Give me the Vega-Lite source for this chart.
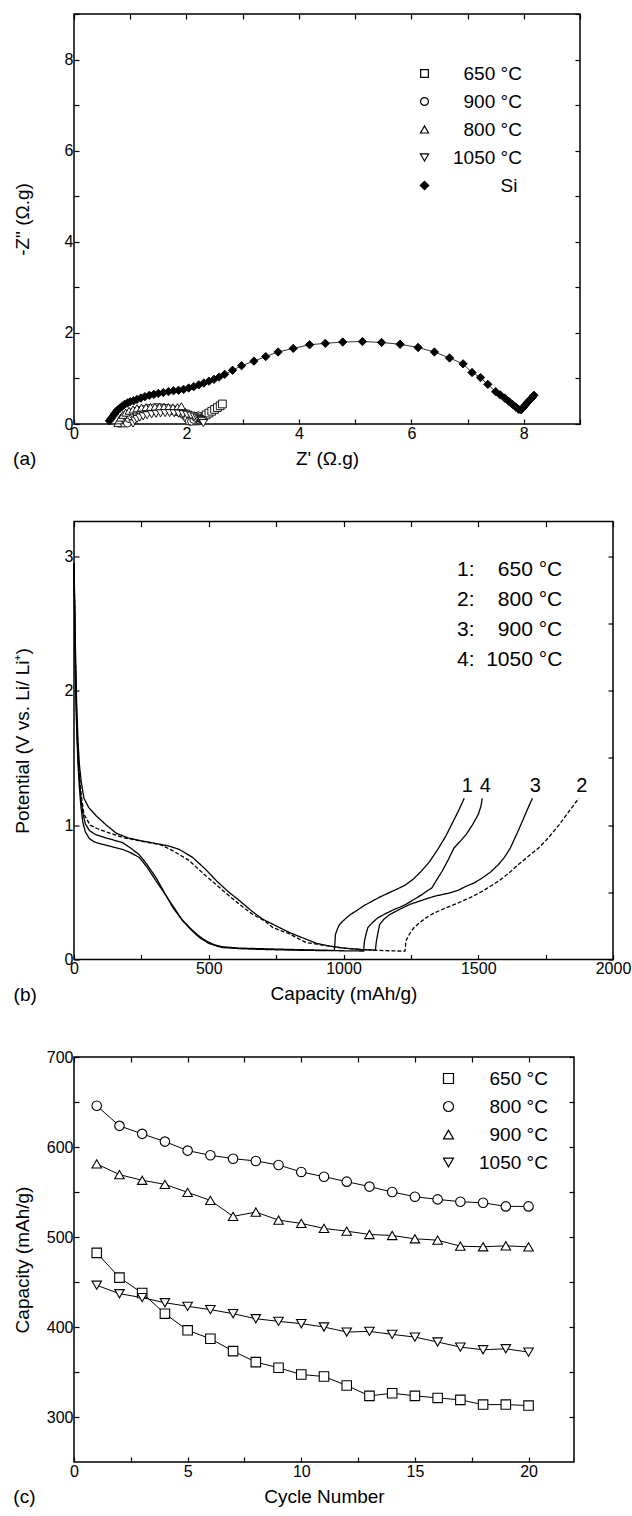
{
  "$schema": "https://vega.github.io/schema/vega-lite/v6.json",
  "background": "white",
  "padding": {"left": 12, "top": 5, "right": 5, "bottom": 2},
  "spacing": 97.5,
  "bounds": "flush",
  "config": {
    "font": "Liberation Sans",
    "view": {"stroke": "black", "strokeWidth": 1.5},
    "axis": {"domain": false, "grid": false, "tickColor": "black", "tickSize": -5, "tickWidth": 1.2, "labelColor": "black", "labelFontSize": 16, "labelPadding": 6, "titleColor": "black", "titleFontSize": 19, "titleFontWeight": "normal", "labelFlush": false, "labelOverlap": false, "titlePadding": 8},
    "legend": {"labelFontSize": 19, "labelColor": "black", "padding": 0, "labelFont": "Liberation Sans"},
    "title": {"fontSize": 19, "fontWeight": "normal", "color": "black"}
  },
  "resolve": {"scale": {"shape": "independent", "fill": "independent", "size": "independent", "strokeDash": "independent", "x": "independent", "y": "independent"}, "legend": {"shape": "independent", "fill": "independent", "size": "independent", "strokeDash": "independent"}},
  "datasets": {
    "imp": [
      {"s":"Si","x":0.63,"y":0.07},{"s":"Si","x":0.66,"y":0.12},{"s":"Si","x":0.69,"y":0.17},{"s":"Si","x":0.72,"y":0.22},{"s":"Si","x":0.75,"y":0.27},{"s":"Si","x":0.78,"y":0.31},{"s":"Si","x":0.82,"y":0.35},{"s":"Si","x":0.86,"y":0.39},{"s":"Si","x":0.9,"y":0.43},{"s":"Si","x":0.95,"y":0.46},{"s":"Si","x":1.0,"y":0.49},{"s":"Si","x":1.06,"y":0.51},{"s":"Si","x":1.12,"y":0.54},{"s":"Si","x":1.19,"y":0.57},{"s":"Si","x":1.26,"y":0.6},{"s":"Si","x":1.34,"y":0.63},{"s":"Si","x":1.42,"y":0.65},{"s":"Si","x":1.5,"y":0.67},{"s":"Si","x":1.59,"y":0.69},{"s":"Si","x":1.68,"y":0.71},{"s":"Si","x":1.77,"y":0.73},{"s":"Si","x":1.86,"y":0.74},{"s":"Si","x":1.95,"y":0.76},{"s":"Si","x":2.04,"y":0.79},{"s":"Si","x":2.13,"y":0.82},{"s":"Si","x":2.22,"y":0.86},{"s":"Si","x":2.31,"y":0.9},{"s":"Si","x":2.4,"y":0.94},{"s":"Si","x":2.49,"y":0.98},{"s":"Si","x":2.58,"y":1.03},{"s":"Si","x":2.68,"y":1.09},{"s":"Si","x":2.82,"y":1.18},{"s":"Si","x":2.98,"y":1.28},{"s":"Si","x":3.2,"y":1.38},{"s":"Si","x":3.41,"y":1.48},{"s":"Si","x":3.63,"y":1.58},{"s":"Si","x":3.9,"y":1.66},{"s":"Si","x":4.19,"y":1.74},{"s":"Si","x":4.47,"y":1.77},{"s":"Si","x":4.78,"y":1.8},{"s":"Si","x":5.13,"y":1.81},{"s":"Si","x":5.47,"y":1.79},{"s":"Si","x":5.8,"y":1.75},{"s":"Si","x":6.12,"y":1.68},{"s":"Si","x":6.41,"y":1.58},{"s":"Si","x":6.68,"y":1.45},{"s":"Si","x":6.92,"y":1.32},{"s":"Si","x":7.08,"y":1.13},{"s":"Si","x":7.23,"y":1.02},{"s":"Si","x":7.36,"y":0.87},{"s":"Si","x":7.5,"y":0.71},{"s":"Si","x":7.58,"y":0.64},{"s":"Si","x":7.66,"y":0.57},{"s":"Si","x":7.74,"y":0.49},{"s":"Si","x":7.8,"y":0.43},{"s":"Si","x":7.86,"y":0.37},{"s":"Si","x":7.91,"y":0.32},{"s":"Si","x":7.95,"y":0.31},{"s":"Si","x":7.99,"y":0.36},{"s":"Si","x":8.03,"y":0.42},{"s":"Si","x":8.07,"y":0.48},{"s":"Si","x":8.11,"y":0.53},{"s":"Si","x":8.15,"y":0.58},{"s":"Si","x":8.18,"y":0.63},
      {"s":"650 °C","x":0.85,"y":0.02},{"s":"650 °C","x":0.88,"y":0.099},{"s":"650 °C","x":0.92,"y":0.149},{"s":"650 °C","x":0.97,"y":0.191},{"s":"650 °C","x":1.02,"y":0.223},{"s":"650 °C","x":1.08,"y":0.252},{"s":"650 °C","x":1.14,"y":0.275},{"s":"650 °C","x":1.2,"y":0.293},{"s":"650 °C","x":1.26,"y":0.307},{"s":"650 °C","x":1.32,"y":0.317},{"s":"650 °C","x":1.38,"y":0.324},{"s":"650 °C","x":1.44,"y":0.329},{"s":"650 °C","x":1.5,"y":0.33},{"s":"650 °C","x":1.56,"y":0.329},{"s":"650 °C","x":1.62,"y":0.324},{"s":"650 °C","x":1.68,"y":0.317},{"s":"650 °C","x":1.74,"y":0.307},{"s":"650 °C","x":1.8,"y":0.293},{"s":"650 °C","x":1.86,"y":0.275},{"s":"650 °C","x":1.92,"y":0.252},{"s":"650 °C","x":1.98,"y":0.223},{"s":"650 °C","x":2.03,"y":0.191},{"s":"650 °C","x":2.07,"y":0.149},{"s":"650 °C","x":2.1,"y":0.11},{"s":"650 °C","x":2.14,"y":0.07},{"s":"650 °C","x":2.18,"y":0.07},{"s":"650 °C","x":2.22,"y":0.1},{"s":"650 °C","x":2.26,"y":0.13},{"s":"650 °C","x":2.3,"y":0.16},{"s":"650 °C","x":2.35,"y":0.2},{"s":"650 °C","x":2.4,"y":0.24},{"s":"650 °C","x":2.45,"y":0.28},{"s":"650 °C","x":2.5,"y":0.32},{"s":"650 °C","x":2.55,"y":0.36},{"s":"650 °C","x":2.6,"y":0.4},{"s":"650 °C","x":2.64,"y":0.44},
      {"s":"900 °C","x":0.95,"y":0.02},{"s":"900 °C","x":0.98,"y":0.118},{"s":"900 °C","x":1.02,"y":0.176},{"s":"900 °C","x":1.07,"y":0.224},{"s":"900 °C","x":1.12,"y":0.26},{"s":"900 °C","x":1.18,"y":0.293},{"s":"900 °C","x":1.24,"y":0.317},{"s":"900 °C","x":1.3,"y":0.335},{"s":"900 °C","x":1.36,"y":0.348},{"s":"900 °C","x":1.42,"y":0.356},{"s":"900 °C","x":1.48,"y":0.36},{"s":"900 °C","x":1.54,"y":0.358},{"s":"900 °C","x":1.6,"y":0.354},{"s":"900 °C","x":1.66,"y":0.344},{"s":"900 °C","x":1.72,"y":0.33},{"s":"900 °C","x":1.78,"y":0.31},{"s":"900 °C","x":1.84,"y":0.283},{"s":"900 °C","x":1.9,"y":0.247},{"s":"900 °C","x":1.95,"y":0.207},{"s":"900 °C","x":1.99,"y":0.163},{"s":"900 °C","x":2.02,"y":0.117},{"s":"900 °C","x":2.05,"y":0.06},{"s":"900 °C","x":2.09,"y":0.06},{"s":"900 °C","x":2.13,"y":0.1},{"s":"900 °C","x":2.17,"y":0.14},{"s":"900 °C","x":2.21,"y":0.18},
      {"s":"800 °C","x":0.78,"y":0.02},{"s":"800 °C","x":0.8,"y":0.08},{"s":"800 °C","x":0.83,"y":0.14},{"s":"800 °C","x":0.87,"y":0.2},{"s":"800 °C","x":0.92,"y":0.25},{"s":"800 °C","x":0.98,"y":0.29},{"s":"800 °C","x":1.05,"y":0.32},{"s":"800 °C","x":1.12,"y":0.345},{"s":"800 °C","x":1.2,"y":0.36},{"s":"800 °C","x":1.28,"y":0.37},{"s":"800 °C","x":1.36,"y":0.375},{"s":"800 °C","x":1.44,"y":0.378},{"s":"800 °C","x":1.52,"y":0.378},{"s":"800 °C","x":1.6,"y":0.375},{"s":"800 °C","x":1.68,"y":0.37},{"s":"800 °C","x":1.76,"y":0.365},{"s":"800 °C","x":1.84,"y":0.37},{"s":"800 °C","x":1.91,"y":0.39},
      {"s":"1050 °C","x":1.05,"y":0.01},{"s":"1050 °C","x":1.08,"y":0.073},{"s":"1050 °C","x":1.12,"y":0.11},{"s":"1050 °C","x":1.17,"y":0.141},{"s":"1050 °C","x":1.23,"y":0.168},{"s":"1050 °C","x":1.3,"y":0.192},{"s":"1050 °C","x":1.38,"y":0.212},{"s":"1050 °C","x":1.46,"y":0.225},{"s":"1050 °C","x":1.54,"y":0.234},{"s":"1050 °C","x":1.62,"y":0.239},{"s":"1050 °C","x":1.7,"y":0.24},{"s":"1050 °C","x":1.78,"y":0.237},{"s":"1050 °C","x":1.86,"y":0.229},{"s":"1050 °C","x":1.94,"y":0.217},{"s":"1050 °C","x":2.01,"y":0.203},{"s":"1050 °C","x":2.08,"y":0.183},{"s":"1050 °C","x":2.14,"y":0.16},{"s":"1050 °C","x":2.19,"y":0.136},{"s":"1050 °C","x":2.23,"y":0.11},{"s":"1050 °C","x":2.26,"y":0.085},{"s":"1050 °C","x":2.28,"y":0.06},{"s":"1050 °C","x":2.3,"y":0.02}
    ],
    "dc": [
      {"n":"1","cap":0,"v":2.95},{"n":"1","cap":3,"v":2.5},{"n":"1","cap":6,"v":2.1},{"n":"1","cap":10,"v":1.75},{"n":"1","cap":15,"v":1.5},{"n":"1","cap":20,"v":1.34},{"n":"1","cap":26,"v":1.2},{"n":"1","cap":33,"v":1.09},{"n":"1","cap":42,"v":1.01},{"n":"1","cap":57,"v":0.96},{"n":"1","cap":80,"v":0.93},{"n":"1","cap":110,"v":0.91},{"n":"1","cap":145,"v":0.89},{"n":"1","cap":180,"v":0.87},{"n":"1","cap":210,"v":0.83},{"n":"1","cap":242,"v":0.78},{"n":"1","cap":270,"v":0.71},{"n":"1","cap":304,"v":0.61},{"n":"1","cap":335,"v":0.5},{"n":"1","cap":366,"v":0.39},{"n":"1","cap":395,"v":0.31},{"n":"1","cap":428,"v":0.24},{"n":"1","cap":460,"v":0.18},{"n":"1","cap":489,"v":0.14},{"n":"1","cap":520,"v":0.11},{"n":"1","cap":551,"v":0.095},{"n":"1","cap":613,"v":0.085},{"n":"1","cap":700,"v":0.08},{"n":"1","cap":800,"v":0.075},{"n":"1","cap":900,"v":0.07},{"n":"1","cap":966,"v":0.068},{"n":"1","cap":968,"v":0.12},{"n":"1","cap":970,"v":0.186},{"n":"1","cap":978,"v":0.23},{"n":"1","cap":985,"v":0.26},{"n":"1","cap":1000,"v":0.29},{"n":"1","cap":1022,"v":0.33},{"n":"1","cap":1046,"v":0.36},{"n":"1","cap":1075,"v":0.4},{"n":"1","cap":1108,"v":0.436},{"n":"1","cap":1140,"v":0.47},{"n":"1","cap":1170,"v":0.498},{"n":"1","cap":1200,"v":0.525},{"n":"1","cap":1230,"v":0.555},{"n":"1","cap":1260,"v":0.6},{"n":"1","cap":1290,"v":0.66},{"n":"1","cap":1320,"v":0.73},{"n":"1","cap":1350,"v":0.82},{"n":"1","cap":1380,"v":0.92},{"n":"1","cap":1410,"v":1.04},{"n":"1","cap":1430,"v":1.12},{"n":"1","cap":1448,"v":1.2},
      {"n":"4","cap":0,"v":2.95},{"n":"4","cap":3,"v":2.45},{"n":"4","cap":6,"v":2.05},{"n":"4","cap":10,"v":1.7},{"n":"4","cap":15,"v":1.45},{"n":"4","cap":20,"v":1.28},{"n":"4","cap":26,"v":1.13},{"n":"4","cap":33,"v":1.02},{"n":"4","cap":42,"v":0.95},{"n":"4","cap":57,"v":0.9},{"n":"4","cap":75,"v":0.875},{"n":"4","cap":100,"v":0.86},{"n":"4","cap":140,"v":0.84},{"n":"4","cap":180,"v":0.82},{"n":"4","cap":210,"v":0.795},{"n":"4","cap":242,"v":0.76},{"n":"4","cap":270,"v":0.69},{"n":"4","cap":304,"v":0.586},{"n":"4","cap":330,"v":0.51},{"n":"4","cap":354,"v":0.437},{"n":"4","cap":380,"v":0.36},{"n":"4","cap":403,"v":0.288},{"n":"4","cap":435,"v":0.22},{"n":"4","cap":465,"v":0.164},{"n":"4","cap":500,"v":0.12},{"n":"4","cap":530,"v":0.1},{"n":"4","cap":551,"v":0.089},{"n":"4","cap":620,"v":0.08},{"n":"4","cap":700,"v":0.075},{"n":"4","cap":800,"v":0.07},{"n":"4","cap":900,"v":0.067},{"n":"4","cap":1000,"v":0.065},{"n":"4","cap":1075,"v":0.063},{"n":"4","cap":1076,"v":0.1},{"n":"4","cap":1078,"v":0.14},{"n":"4","cap":1085,"v":0.2},{"n":"4","cap":1090,"v":0.236},{"n":"4","cap":1105,"v":0.27},{"n":"4","cap":1127,"v":0.31},{"n":"4","cap":1155,"v":0.34},{"n":"4","cap":1187,"v":0.372},{"n":"4","cap":1210,"v":0.39},{"n":"4","cap":1231,"v":0.41},{"n":"4","cap":1260,"v":0.445},{"n":"4","cap":1291,"v":0.483},{"n":"4","cap":1310,"v":0.51},{"n":"4","cap":1328,"v":0.533},{"n":"4","cap":1345,"v":0.59},{"n":"4","cap":1366,"v":0.657},{"n":"4","cap":1388,"v":0.74},{"n":"4","cap":1410,"v":0.83},{"n":"4","cap":1433,"v":0.88},{"n":"4","cap":1455,"v":0.93},{"n":"4","cap":1478,"v":1.0},{"n":"4","cap":1500,"v":1.08},{"n":"4","cap":1510,"v":1.14},{"n":"4","cap":1515,"v":1.2},
      {"n":"3","cap":0,"v":2.95},{"n":"3","cap":3,"v":2.6},{"n":"3","cap":6,"v":2.25},{"n":"3","cap":10,"v":1.9},{"n":"3","cap":15,"v":1.62},{"n":"3","cap":20,"v":1.45},{"n":"3","cap":27,"v":1.32},{"n":"3","cap":37,"v":1.2},{"n":"3","cap":55,"v":1.13},{"n":"3","cap":82,"v":1.07},{"n":"3","cap":120,"v":1.0},{"n":"3","cap":157,"v":0.94},{"n":"3","cap":200,"v":0.905},{"n":"3","cap":246,"v":0.885},{"n":"3","cap":300,"v":0.865},{"n":"3","cap":351,"v":0.845},{"n":"3","cap":390,"v":0.82},{"n":"3","cap":440,"v":0.76},{"n":"3","cap":489,"v":0.67},{"n":"3","cap":530,"v":0.583},{"n":"3","cap":575,"v":0.5},{"n":"3","cap":613,"v":0.44},{"n":"3","cap":660,"v":0.36},{"n":"3","cap":700,"v":0.3},{"n":"3","cap":737,"v":0.263},{"n":"3","cap":800,"v":0.2},{"n":"3","cap":860,"v":0.152},{"n":"3","cap":900,"v":0.12},{"n":"3","cap":948,"v":0.1},{"n":"3","cap":1000,"v":0.085},{"n":"3","cap":1067,"v":0.074},{"n":"3","cap":1119,"v":0.07},{"n":"3","cap":1120,"v":0.1},{"n":"3","cap":1122,"v":0.136},{"n":"3","cap":1128,"v":0.2},{"n":"3","cap":1134,"v":0.26},{"n":"3","cap":1150,"v":0.3},{"n":"3","cap":1172,"v":0.335},{"n":"3","cap":1210,"v":0.375},{"n":"3","cap":1246,"v":0.41},{"n":"3","cap":1290,"v":0.44},{"n":"3","cap":1336,"v":0.47},{"n":"3","cap":1395,"v":0.496},{"n":"3","cap":1425,"v":0.515},{"n":"3","cap":1455,"v":0.545},{"n":"3","cap":1485,"v":0.57},{"n":"3","cap":1515,"v":0.607},{"n":"3","cap":1545,"v":0.65},{"n":"3","cap":1575,"v":0.707},{"n":"3","cap":1597,"v":0.76},{"n":"3","cap":1619,"v":0.83},{"n":"3","cap":1642,"v":0.93},{"n":"3","cap":1664,"v":1.03},{"n":"3","cap":1683,"v":1.12},{"n":"3","cap":1701,"v":1.2},
      {"n":"2","cap":0,"v":2.95},{"n":"2","cap":3,"v":2.55},{"n":"2","cap":6,"v":2.15},{"n":"2","cap":10,"v":1.8},{"n":"2","cap":15,"v":1.55},{"n":"2","cap":20,"v":1.38},{"n":"2","cap":27,"v":1.22},{"n":"2","cap":37,"v":1.08},{"n":"2","cap":60,"v":1.0},{"n":"2","cap":85,"v":0.975},{"n":"2","cap":112,"v":0.955},{"n":"2","cap":150,"v":0.93},{"n":"2","cap":187,"v":0.905},{"n":"2","cap":250,"v":0.88},{"n":"2","cap":321,"v":0.855},{"n":"2","cap":366,"v":0.81},{"n":"2","cap":425,"v":0.74},{"n":"2","cap":489,"v":0.623},{"n":"2","cap":515,"v":0.58},{"n":"2","cap":560,"v":0.5},{"n":"2","cap":613,"v":0.412},{"n":"2","cap":660,"v":0.34},{"n":"2","cap":709,"v":0.285},{"n":"2","cap":737,"v":0.238},{"n":"2","cap":800,"v":0.19},{"n":"2","cap":860,"v":0.127},{"n":"2","cap":933,"v":0.104},{"n":"2","cap":1000,"v":0.085},{"n":"2","cap":1067,"v":0.074},{"n":"2","cap":1150,"v":0.066},{"n":"2","cap":1228,"v":0.062},{"n":"2","cap":1230,"v":0.1},{"n":"2","cap":1231,"v":0.136},{"n":"2","cap":1245,"v":0.19},{"n":"2","cap":1261,"v":0.236},{"n":"2","cap":1283,"v":0.275},{"n":"2","cap":1306,"v":0.31},{"n":"2","cap":1335,"v":0.345},{"n":"2","cap":1366,"v":0.372},{"n":"2","cap":1400,"v":0.4},{"n":"2","cap":1440,"v":0.434},{"n":"2","cap":1480,"v":0.47},{"n":"2","cap":1515,"v":0.508},{"n":"2","cap":1545,"v":0.545},{"n":"2","cap":1575,"v":0.583},{"n":"2","cap":1612,"v":0.64},{"n":"2","cap":1649,"v":0.707},{"n":"2","cap":1687,"v":0.77},{"n":"2","cap":1724,"v":0.83},{"n":"2","cap":1762,"v":0.91},{"n":"2","cap":1799,"v":1.0},{"n":"2","cap":1836,"v":1.1},{"n":"2","cap":1873,"v":1.2}
    ],
    "cyc": [
      {"s":"650 °C","n":1,"c":482.4},{"s":"650 °C","n":2,"c":454.9},{"s":"650 °C","n":3,"c":437.8},{"s":"650 °C","n":4,"c":414.8},{"s":"650 °C","n":5,"c":396.3},{"s":"650 °C","n":6,"c":387},{"s":"650 °C","n":7,"c":373.2},{"s":"650 °C","n":8,"c":361},{"s":"650 °C","n":9,"c":354.7},{"s":"650 °C","n":10,"c":347.2},{"s":"650 °C","n":11,"c":345},{"s":"650 °C","n":12,"c":335},{"s":"650 °C","n":13,"c":323.5},{"s":"650 °C","n":14,"c":326.4},{"s":"650 °C","n":15,"c":323.5},{"s":"650 °C","n":16,"c":321.2},{"s":"650 °C","n":17,"c":319},{"s":"650 °C","n":18,"c":313.8},{"s":"650 °C","n":19,"c":313.8},{"s":"650 °C","n":20,"c":312.7},
      {"s":"800 °C","n":1,"c":645.8},{"s":"800 °C","n":2,"c":623.5},{"s":"800 °C","n":3,"c":614.6},{"s":"800 °C","n":4,"c":606},{"s":"800 °C","n":5,"c":596},{"s":"800 °C","n":6,"c":590.8},{"s":"800 °C","n":7,"c":587},{"s":"800 °C","n":8,"c":584.5},{"s":"800 °C","n":9,"c":580},{"s":"800 °C","n":10,"c":572.3},{"s":"800 °C","n":11,"c":567},{"s":"800 °C","n":12,"c":561.5},{"s":"800 °C","n":13,"c":556},{"s":"800 °C","n":14,"c":550},{"s":"800 °C","n":15,"c":544.8},{"s":"800 °C","n":16,"c":541.8},{"s":"800 °C","n":17,"c":539.2},{"s":"800 °C","n":18,"c":538},{"s":"800 °C","n":19,"c":534},{"s":"800 °C","n":20,"c":534},
      {"s":"900 °C","n":1,"c":581.2},{"s":"900 °C","n":2,"c":569.3},{"s":"900 °C","n":3,"c":563},{"s":"900 °C","n":4,"c":558.5},{"s":"900 °C","n":5,"c":549.6},{"s":"900 °C","n":6,"c":540.7},{"s":"900 °C","n":7,"c":522.9},{"s":"900 °C","n":8,"c":527.7},{"s":"900 °C","n":9,"c":518.8},{"s":"900 °C","n":10,"c":515.1},{"s":"900 °C","n":11,"c":509.5},{"s":"900 °C","n":12,"c":506.5},{"s":"900 °C","n":13,"c":502.8},{"s":"900 °C","n":14,"c":501.7},{"s":"900 °C","n":15,"c":498},{"s":"900 °C","n":16,"c":496.5},{"s":"900 °C","n":17,"c":489.8},{"s":"900 °C","n":18,"c":489.1},{"s":"900 °C","n":19,"c":490.2},{"s":"900 °C","n":20,"c":489},
      {"s":"1050 °C","n":1,"c":446.4},{"s":"1050 °C","n":2,"c":437},{"s":"1050 °C","n":3,"c":432.6},{"s":"1050 °C","n":4,"c":427},{"s":"1050 °C","n":5,"c":423},{"s":"1050 °C","n":6,"c":419.3},{"s":"1050 °C","n":7,"c":414.8},{"s":"1050 °C","n":8,"c":409.2},{"s":"1050 °C","n":9,"c":406.3},{"s":"1050 °C","n":10,"c":403.7},{"s":"1050 °C","n":11,"c":400},{"s":"1050 °C","n":12,"c":394.4},{"s":"1050 °C","n":13,"c":395.1},{"s":"1050 °C","n":14,"c":391.8},{"s":"1050 °C","n":15,"c":388.8},{"s":"1050 °C","n":16,"c":383.3},{"s":"1050 °C","n":17,"c":377.7},{"s":"1050 °C","n":18,"c":374.7},{"s":"1050 °C","n":19,"c":375.8},{"s":"1050 °C","n":20,"c":372.1}
    ]
  },
  "vconcat": [
    {
      "width": 506, "height": 410,
      "title": {"text": "(a)", "orient": "bottom", "anchor": "start", "frame": "bounds", "offset": -18},
      "data": {"name": "imp"},
      "layer": [
        {
          "mark": {"type": "line", "color": "black", "strokeWidth": 0.8},
          "encoding": {
            "x": {"field": "x", "type": "quantitative", "scale": {"domain": [0, 9], "nice": false}, "axis": {"values": [0,1,2,3,4,5,6,7,8,9], "labelExpr": "datum.value % 2 == 0 ? datum.label : ''", "title": "Z' (Ω.g)"}},
            "y": {"field": "y", "type": "quantitative", "scale": {"domain": [0, 9], "nice": false}, "axis": {"values": [0,1,2,3,4,5,6,7,8,9], "labelExpr": "datum.value % 2 == 0 ? datum.label : ''", "title": "-Z\" (Ω.g)", "titlePadding": 32}},
            "detail": {"field": "s", "type": "nominal"}
          }
        },
        {
          "mark": {"type": "point", "filled": true, "stroke": "black", "strokeWidth": 0.9, "opacity": 1},
          "encoding": {
            "x": {"field": "x", "type": "quantitative", "axis": {"orient": "top", "values": [0,1,2,3,4,5,6,7,8,9], "labels": false, "title": null}},
            "y": {"field": "y", "type": "quantitative", "axis": {"orient": "right", "values": [0,1,2,3,4,5,6,7,8,9], "labels": false, "title": null}},
            "shape": {"field": "s", "type": "nominal", "scale": {"domain": ["650 °C","900 °C","800 °C","1050 °C","Si"], "range": ["square","circle","triangle-up","triangle-down","diamond"]},
              "legend": {"orient": "none", "legendX": 341, "legendY": 50, "title": null, "symbolStrokeWidth": 1.2, "labelOffset": 19, "rowPadding": 8, "labelFontSize": 19,
                "labelExpr": "datum.label == '1050 °C' ? datum.label : datum.label == 'Si' ? '\u200b\u00a0\u00a0\u00a0\u00a0\u00a0\u00a0\u00a0\u00a0\u00a0Si' : '\u200b\u00a0\u00a0' + datum.label"}},
            "fill": {"field": "s", "type": "nominal", "scale": {"domain": ["650 °C","900 °C","800 °C","1050 °C","Si"], "range": ["white","white","white","white","black"]},
              "legend": {"orient": "none", "legendX": 341, "legendY": 50, "title": null, "symbolStrokeWidth": 1.2, "labelOffset": 19, "rowPadding": 8, "labelFontSize": 19,
                "labelExpr": "datum.label == '1050 °C' ? datum.label : datum.label == 'Si' ? '\u200b\u00a0\u00a0\u00a0\u00a0\u00a0\u00a0\u00a0\u00a0\u00a0Si' : '\u200b\u00a0\u00a0' + datum.label"}},
            "size": {"field": "s", "type": "ordinal", "scale": {"domain": ["650 °C","900 °C","800 °C","1050 °C","Si"], "range": [60,70,80,80,150]},
              "legend": {"orient": "none", "legendX": 341, "legendY": 50, "title": null, "symbolStrokeWidth": 1.2, "labelOffset": 19, "rowPadding": 8, "labelFontSize": 19,
                "labelExpr": "datum.label == '1050 °C' ? datum.label : datum.label == 'Si' ? '\u200b\u00a0\u00a0\u00a0\u00a0\u00a0\u00a0\u00a0\u00a0\u00a0Si' : '\u200b\u00a0\u00a0' + datum.label"}}
          }
        }
      ],
      "resolve": {"axis": {"x": "independent", "y": "independent"}}
    },
    {
      "width": 539, "height": 438,
      "title": {"text": "(b)", "orient": "bottom", "anchor": "start", "frame": "bounds", "offset": -18},
      "data": {"name": "dc"},
      "layer": [
        {
          "mark": {"type": "line", "color": "black", "strokeWidth": 1.3},
          "encoding": {
            "x": {"field": "cap", "type": "quantitative", "scale": {"domain": [0, 2000], "nice": false}, "axis": {"values": [0,250,500,750,1000,1250,1500,1750,2000], "labelExpr": "datum.value % 500 == 0 ? datum.label : ''", "format": "d", "title": "Capacity (mAh/g)"}},
            "y": {"field": "v", "type": "quantitative", "scale": {"domain": [0, 3.26], "nice": false}, "axis": {"values": [0,0.5,1,1.5,2,2.5,3], "labelExpr": "datum.value % 1 == 0 ? datum.label : ''", "format": "d", "title": "Potential (V vs. Li/ Li⁺)", "titlePadding": 31.5}},
            "strokeDash": {"field": "n", "type": "nominal", "scale": {"domain": ["1","2","3","4"], "range": [[1,0],[4,2],[1,0],[1,0]]},
              "legend": {"orient": "none", "legendX": 362, "legendY": 38, "title": null, "symbolSize": 0, "symbolOpacity": 0, "symbolStrokeWidth": 0, "labelOffset": 0, "rowPadding": 8, "labelFontSize": 21,
                "labelExpr": "datum.label == '4' ? '4:\u00a0\u00a01050 °C' : datum.label == '1' ? '1:\u00a0\u00a0\u00a0\u00a0650 °C' : datum.label == '2' ? '2:\u00a0\u00a0\u00a0\u00a0800 °C' : '3:\u00a0\u00a0\u00a0\u00a0900 °C'"}}
          }
        },
        {
          "transform": [{"aggregate": [{"op": "argmax", "field": "cap", "as": "e"}], "groupby": ["n"]}],
          "mark": {"type": "text", "fontSize": 20, "dx": 3, "dy": -6, "baseline": "alphabetic", "align": "center", "color": "black"},
          "encoding": {
            "x": {"field": "e.cap", "type": "quantitative", "axis": {"orient": "top", "values": [0,250,500,750,1000,1250,1500,1750,2000], "labels": false, "title": null}},
            "y": {"field": "e.v", "type": "quantitative", "axis": {"orient": "right", "values": [0,0.5,1,1.5,2,2.5,3], "labels": false, "title": null}},
            "text": {"field": "n"}
          }
        }
      ],
      "resolve": {"axis": {"x": "independent", "y": "independent"}}
    },
    {
      "width": 500, "height": 405,
      "title": {"text": "(c)", "orient": "bottom", "anchor": "start", "frame": "bounds", "offset": -18},
      "data": {"name": "cyc"},
      "layer": [
        {
          "mark": {"type": "line", "color": "black", "strokeWidth": 1},
          "encoding": {
            "x": {"field": "n", "type": "quantitative", "scale": {"domain": [0, 22], "nice": false}, "axis": {"values": [0,2.5,5,7.5,10,12.5,15,17.5,20], "labelExpr": "datum.value % 5 == 0 ? datum.label : ''", "title": "Cycle Number"}},
            "y": {"field": "c", "type": "quantitative", "scale": {"domain": [250, 700], "nice": false, "zero": false}, "axis": {"values": [300,350,400,450,500,550,600,650,700], "labelExpr": "datum.value % 100 == 0 ? datum.label : ''", "title": "Capacity (mAh/g)", "titlePadding": 14}},
            "detail": {"field": "s", "type": "nominal"}
          }
        },
        {
          "mark": {"type": "point", "filled": true, "fill": "white", "stroke": "black", "strokeWidth": 1.1, "opacity": 1, "size": 90},
          "encoding": {
            "x": {"field": "n", "type": "quantitative", "axis": {"orient": "top", "values": [0,2.5,5,7.5,10,12.5,15,17.5,20], "labels": false, "title": null}},
            "y": {"field": "c", "type": "quantitative", "axis": {"orient": "right", "values": [300,350,400,450,500,550,600,650,700], "labels": false, "title": null}},
            "shape": {"field": "s", "type": "nominal", "scale": {"domain": ["650 °C","800 °C","900 °C","1050 °C"], "range": ["square","circle","triangle-up","triangle-down"]},
              "legend": {"orient": "none", "legendX": 365, "legendY": 12, "title": null, "symbolSize": 100, "symbolStrokeWidth": 1.2, "labelOffset": 21, "rowPadding": 8, "labelFontSize": 19,
                "labelExpr": "datum.label == '1050 °C' ? datum.label : '\u200b\u00a0\u00a0' + datum.label"}}
          }
        }
      ],
      "resolve": {"axis": {"x": "independent", "y": "independent"}}
    }
  ]
}
